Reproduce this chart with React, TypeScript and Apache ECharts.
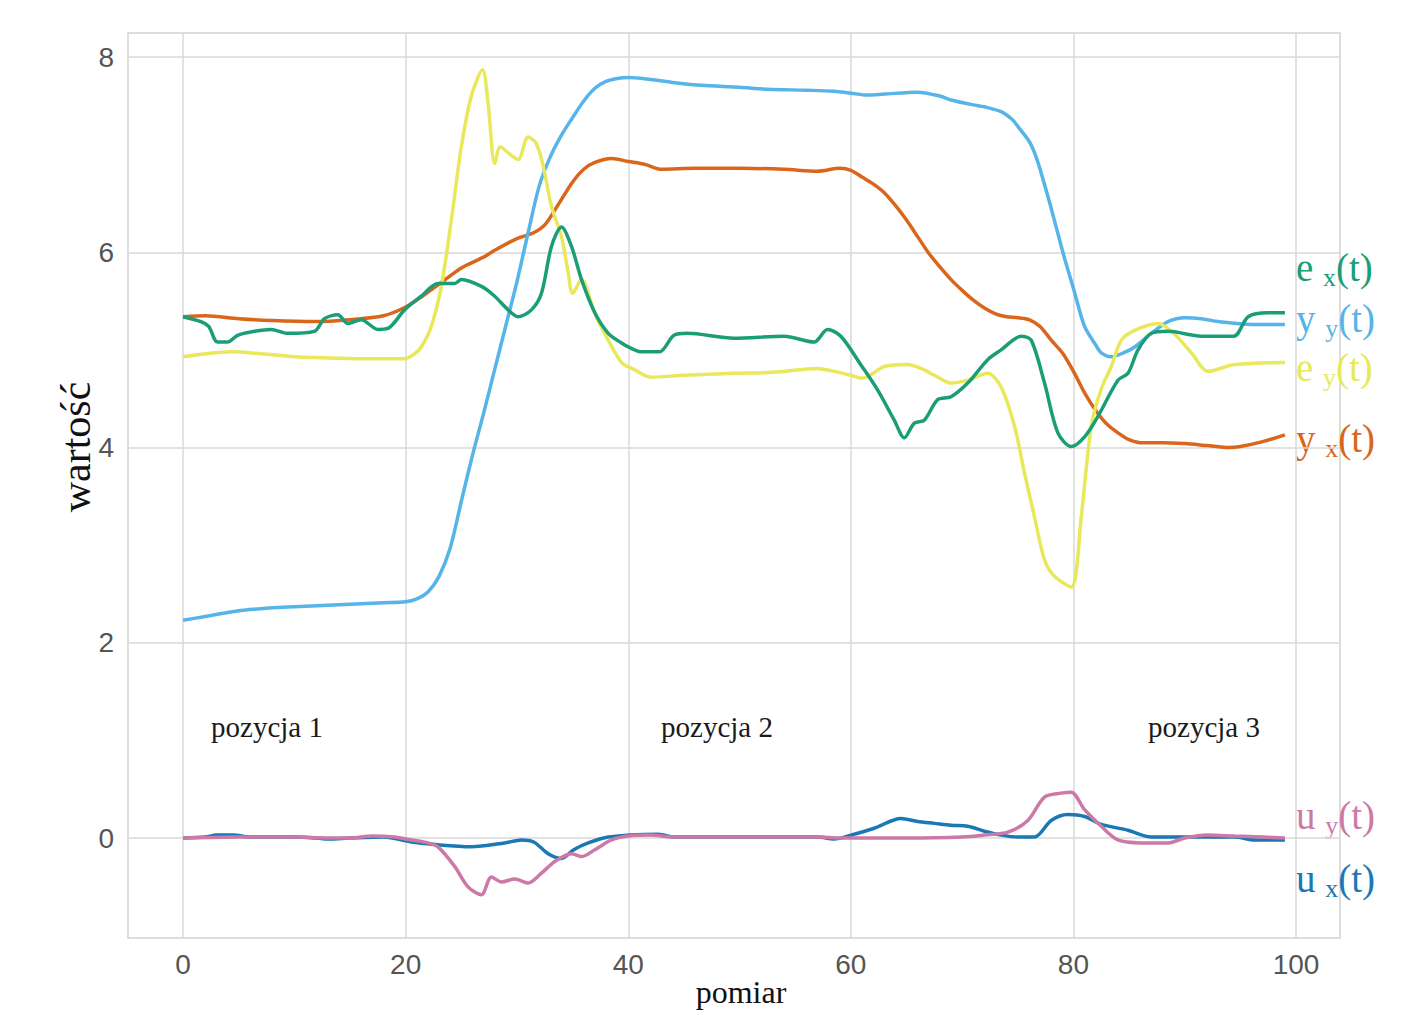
import React, { useEffect, useRef } from "react";
import * as echarts from "echarts";

// y_x(t) – orange
const yxX = [0, 2, 5, 8, 12, 15, 18, 20, 21.5, 23.2, 25, 27, 28, 30, 31.5, 32.5, 33.5, 35, 36, 37, 38.5, 40, 41.5, 43, 46, 50, 54, 57, 59, 60, 61, 62, 63, 64, 65, 66, 67, 68, 69, 70, 71, 72, 73, 74, 75, 76, 77, 78, 79, 80, 81, 82, 83, 84, 85, 86, 88, 90, 92, 94, 95, 97, 99];
const yxY = [5.34, 5.35, 5.32, 5.3, 5.29, 5.31, 5.35, 5.44, 5.55, 5.69, 5.84, 5.95, 6.02, 6.14, 6.2, 6.28, 6.45, 6.72, 6.85, 6.92, 6.96, 6.93, 6.9, 6.85, 6.86, 6.86, 6.85, 6.83, 6.86, 6.84, 6.77, 6.7, 6.61, 6.48, 6.33, 6.16, 5.99, 5.85, 5.72, 5.61, 5.51, 5.43, 5.37, 5.34, 5.33, 5.31, 5.24, 5.1, 4.97, 4.78, 4.56, 4.38, 4.24, 4.15, 4.08, 4.05, 4.05, 4.04, 4.02, 4.0, 4.01, 4.06, 4.13];

// y_y(t) – sky blue
const yyX = [0, 2, 4, 6, 8, 10, 12, 14, 16, 18, 20, 21, 22, 23, 24, 25, 26, 27, 28, 29, 30, 31, 32, 33, 34, 35, 36, 37, 38, 39, 40, 42, 44, 46.5, 50, 52.5, 56, 58.5, 60, 61.5, 63, 66, 68, 69, 71, 72, 73.5, 74.5, 75, 76, 76.5, 77, 78, 79, 79.5, 80, 81, 82, 82.5, 83.4, 84.5, 85.5, 87, 88.5, 90, 91.5, 93, 96, 99];
const yyY = [2.23, 2.27, 2.31, 2.34, 2.36, 2.37, 2.38, 2.39, 2.4, 2.41, 2.42, 2.45, 2.52, 2.68, 2.97, 3.45, 3.92, 4.35, 4.8, 5.25, 5.7, 6.2, 6.68, 6.98, 7.2, 7.38, 7.55, 7.68, 7.75, 7.78, 7.79, 7.77, 7.74, 7.71, 7.69, 7.67, 7.66, 7.65, 7.63, 7.61, 7.62, 7.64, 7.6, 7.56, 7.51, 7.49, 7.44, 7.36, 7.29, 7.14, 7.02, 6.85, 6.45, 6.02, 5.82, 5.63, 5.24, 5.05, 4.97, 4.93, 4.97, 5.03, 5.17, 5.29, 5.33, 5.32, 5.29, 5.26, 5.26];

// e_y(t) – yellow
const eyX = [0, 2, 4.3, 7, 10, 12.4, 16, 19.9, 20.8, 21.4, 22.3, 23.2, 24.1, 25, 25.9, 26.9, 27.4, 28, 28.5, 29.2, 30.1, 31, 31.7, 32.3, 33.1, 34, 34.6, 35, 35.8, 37, 38.2, 39.4, 40.5, 42, 45, 49.5, 53, 57, 58.5, 60, 61, 62, 63, 65.1, 66.5, 67.5, 69, 70.5, 72.3, 73.5, 74.7, 75.6, 76.5, 77.4, 78.3, 79.8, 80.7, 81.6, 82.5, 83.4, 84.3, 85.5, 87.6, 89, 90.6, 92.1, 94.5, 99];
const eyY = [4.93, 4.96, 4.98, 4.96, 4.93, 4.92, 4.91, 4.91, 4.96, 5.03, 5.24, 5.65, 6.33, 7.08, 7.6, 7.87, 7.53, 6.91, 7.08, 7.02, 6.95, 7.18, 7.12, 6.91, 6.47, 6.16, 5.79, 5.58, 5.72, 5.37, 5.1, 4.87, 4.8, 4.72, 4.74, 4.76, 4.77, 4.81, 4.78, 4.74, 4.71, 4.76, 4.83, 4.85, 4.8, 4.74, 4.66, 4.69, 4.76, 4.62, 4.22, 3.74, 3.29, 2.85, 2.68, 2.57, 3.29, 4.22, 4.6, 4.83, 5.1, 5.2, 5.27, 5.17, 4.97, 4.78, 4.85, 4.87];

// e_x(t) – green
const exX = [0, 1.6, 2.3, 3.1, 4, 4.9, 6.4, 7.9, 9.4, 11.8, 12.7, 13.9, 14.8, 16, 17.5, 18.4, 19.9, 21.4, 22.9, 24.4, 25, 26.8, 28, 29.2, 30.1, 31.3, 32.2, 33.1, 34, 34.9, 35.8, 37, 38.2, 39.4, 40, 41.2, 42.8, 44.1, 45.3, 49.5, 54, 56.7, 57.9, 59.1, 61, 62.4, 63.9, 64.8, 65.7, 66.6, 67.8, 69, 70.5, 72.3, 73.5, 75.3, 76.2, 77.4, 78.6, 79.8, 81, 82.2, 84, 84.9, 85.8, 87, 88.5, 91.5, 94.4, 95.7, 97.5, 99];
const exY = [5.34, 5.29, 5.24, 5.08, 5.08, 5.15, 5.19, 5.21, 5.17, 5.19, 5.32, 5.36, 5.27, 5.31, 5.21, 5.22, 5.41, 5.55, 5.68, 5.68, 5.72, 5.65, 5.55, 5.41, 5.34, 5.41, 5.58, 6.06, 6.26, 6.06, 5.72, 5.38, 5.17, 5.07, 5.03, 4.98, 4.98, 5.15, 5.17, 5.12, 5.14, 5.08, 5.21, 5.14, 4.83, 4.59, 4.28, 4.1, 4.25, 4.28, 4.49, 4.52, 4.66, 4.9, 5.0, 5.14, 5.1, 4.66, 4.15, 4.01, 4.11, 4.32, 4.69, 4.76, 5.0, 5.17, 5.19, 5.14, 5.14, 5.34, 5.38, 5.38];

// u_y(t) – pink
const uyX = [0, 5, 10, 13, 15, 17, 19, 20.5, 22, 22.9, 24.4, 25.6, 26.8, 27.7, 28.6, 29.8, 31, 32.2, 33.4, 34.9, 35.8, 37, 38.5, 40, 42, 44, 50, 57, 59, 61.5, 65, 70, 72, 74.1, 75.9, 77.4, 78.9, 79.8, 81, 82.5, 84, 86, 88.5, 90, 92, 94.5, 97, 99];
const uyY = [0, 0.01, 0.01, 0.0, 0.0, 0.02, 0.01, -0.02, -0.05, -0.09, -0.29, -0.5, -0.58, -0.4, -0.45, -0.42, -0.46, -0.36, -0.24, -0.16, -0.19, -0.12, -0.02, 0.02, 0.03, 0.01, 0.01, 0.01, 0.0, 0.0, 0.0, 0.01, 0.03, 0.06, 0.18, 0.42, 0.46, 0.47, 0.29, 0.12, -0.02, -0.05, -0.05, 0.0, 0.03, 0.02, 0.01, 0.0];

// u_x(t) – blue
const uxX = [0, 2, 3, 4.5, 6, 10, 12, 13, 15, 18, 20.5, 22.9, 25.9, 28.9, 30.4, 31.5, 32.8, 34, 35.1, 36.4, 38.2, 40, 42.7, 44.1, 50, 57, 58.5, 60, 62.1, 64.5, 66, 67.5, 69, 70.5, 72, 73.5, 75, 76.5, 78, 79.5, 81, 82.5, 84.9, 87, 90, 94.5, 96.3, 99];
const uxY = [0, 0.01, 0.03, 0.03, 0.01, 0.01, 0.0, -0.01, 0.0, 0.01, -0.04, -0.07, -0.09, -0.05, -0.02, -0.04, -0.16, -0.21, -0.12, -0.05, 0.01, 0.03, 0.04, 0.01, 0.01, 0.01, -0.01, 0.03, 0.1, 0.2, 0.17, 0.15, 0.13, 0.12, 0.07, 0.03, 0.01, 0.01, 0.18, 0.24, 0.22, 0.14, 0.08, 0.01, 0.01, 0.01, -0.02, -0.02];

const xTicks = [0, 20, 40, 60, 80, 100];
const yTicks = [0, 2, 4, 6, 8];

const COL = {
  ex: "#1b9e77",
  yy: "#56b4e9",
  ey: "#e8e85a",
  yx: "#d9661a",
  uy: "#cc79a7",
  ux: "#1a78b4",
};

const zip = (xs: number[], ys: number[]) => xs.map((x, i) => [x, ys[i]]);

const serif = "'Liberation Serif', 'DejaVu Serif', serif";
const sans = "'Liberation Sans', Arial, sans-serif";

function richLabel(main: string, sub: string, color: string, x: number, y: number) {
  return {
    type: "text",
    x,
    y,
    style: {
      text: `{m|${main} }{s|${sub}}{m|(t)}`,
      verticalAlign: "middle",
      rich: {
        m: { fontSize: 39, fontFamily: serif, fill: color, color },
        s: { fontSize: 26, fontFamily: serif, fill: color, color, padding: [20, 0, 0, 0] },
      },
    },
  };
}

export default function App() {
  const ref = useRef<HTMLDivElement>(null);
  useEffect(() => {
    if (!ref.current) return;
    const chart = echarts.init(ref.current, null, { renderer: "svg" });
    const line = (name: string, xs: number[], ys: number[], color: string) => ({
      name,
      type: "line",
      data: zip(xs, ys),
      showSymbol: false,
      smooth: 0.3,
      lineStyle: { color, width: 3.5 },
      itemStyle: { color },
    });
    chart.setOption({
      animation: false,
      backgroundColor: "#ffffff",
      grid: {
        left: 128,
        top: 33,
        width: 1212,
        height: 905,
        show: true,
        borderColor: "#d2d2d2",
        borderWidth: 1.5,
        containLabel: false,
        outerBoundsMode: "none",
      },
      xAxis: {
        type: "value",
        min: -4.95,
        max: 103.95,
        axisLine: { show: false },
        axisTick: { show: false, customValues: xTicks },
        axisLabel: { customValues: xTicks, fontFamily: sans, fontSize: 28, color: "#555", margin: 12 },
        splitLine: { show: true, lineStyle: { color: "#d8d8d8", width: 1.5 } },
      },
      yAxis: {
        type: "value",
        min: -1.024,
        max: 8.246,
        axisLine: { show: false },
        axisTick: { show: false, customValues: yTicks },
        axisLabel: { customValues: yTicks, fontFamily: sans, fontSize: 28, color: "#555", margin: 14 },
        splitLine: { show: true, lineStyle: { color: "#d8d8d8", width: 1.5 } },
      },
      series: [
        line("y_x(t)", yxX, yxY, COL.yx),
        line("y_y(t)", yyX, yyY, COL.yy),
        line("e_y(t)", eyX, eyY, COL.ey),
        line("e_x(t)", exX, exY, COL.ex),
        line("u_x(t)", uxX, uxY, COL.ux),
        line("u_y(t)", uyX, uyY, COL.uy),
      ],
      graphic: [
        {
          type: "text",
          x: 76,
          y: 447,
          rotation: Math.PI / 2,
          style: { text: "wartość", font: `42px ${serif}`, fill: "#111", align: "center", verticalAlign: "middle" },
        },
        {
          type: "text",
          x: 741,
          y: 992,
          style: { text: "pomiar", font: `32px ${serif}`, fill: "#111", align: "center", verticalAlign: "middle" },
        },
        richLabel("e", "x", COL.ex, 1296, 267),
        richLabel("y", "y", COL.yy, 1296, 318),
        richLabel("e", "y", COL.ey, 1296, 367),
        richLabel("y", "x", COL.yx, 1296, 438),
        richLabel("u", "y", COL.uy, 1296, 815),
        richLabel("u", "x", COL.ux, 1296, 878),
        { type: "text", x: 267, y: 727, style: { text: "pozycja 1", font: `29px ${serif}`, fill: "#1a1a1a", align: "center", verticalAlign: "middle" } },
        { type: "text", x: 717, y: 727, style: { text: "pozycja 2", font: `29px ${serif}`, fill: "#1a1a1a", align: "center", verticalAlign: "middle" } },
        { type: "text", x: 1204, y: 727, style: { text: "pozycja 3", font: `29px ${serif}`, fill: "#1a1a1a", align: "center", verticalAlign: "middle" } },
      ],
    });
    return () => chart.dispose();
  }, []);
  return (
    <div
      ref={ref}
      style={{ position: "absolute", left: 0, top: 0, width: 1424, height: 1015 }}
    />
  );
}
